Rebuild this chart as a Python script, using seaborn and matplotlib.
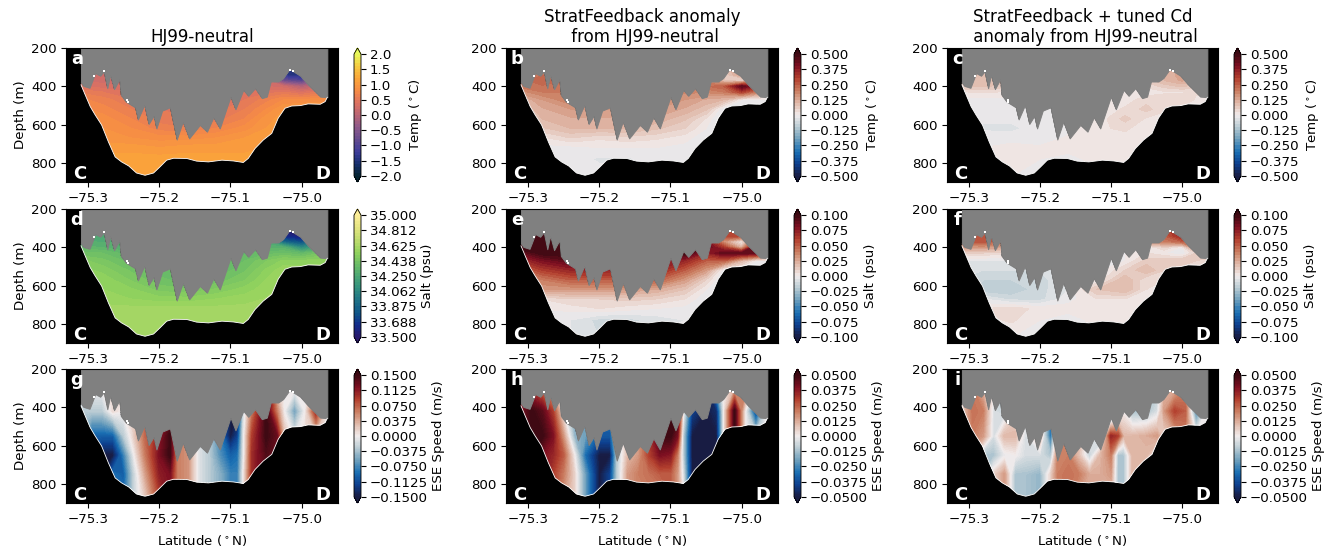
"""Ice shelf cavity sections: base state and anomalies for T, S and along-slope speed."""

import matplotlib

matplotlib.use("Agg")
import matplotlib.pyplot as plt
import numpy as np
import seaborn as sns
from matplotlib.patches import Polygon

W, H = 1328, 548
GRAY = "#808080"

ICE_LAT = [-75.310, -75.3066, -75.298, -75.295, -75.290, -75.283, -75.278, -75.273, -75.269, -75.2635,
           -75.256, -75.254, -75.247, -75.234, -75.230, -75.221, -75.215, -75.208, -75.204, -75.196,
           -75.185, -75.1755, -75.167, -75.158, -75.143, -75.133, -75.124, -75.115, -75.100, -75.093,
           -75.082, -75.075, -75.0655, -75.056, -75.049, -75.0435, -75.033, -75.026, -75.017, -75.002,
           -74.991, -74.974, -74.964]
ICE_DEPTH = [380, 398, 408, 380, 331, 345, 322, 410, 340, 415,
             363, 445, 480, 510, 573, 497, 597, 555, 620, 527,
             510, 678, 585, 672, 602, 637, 562, 620, 454, 520,
             419, 450, 410, 462, 454, 375, 375, 357, 310, 345,
             392, 454, 457]

BED_LAT = [-75.310, -75.304, -75.297, -75.290, -75.281, -75.2715, -75.262, -75.253, -75.243, -75.232,
           -75.220, -75.208, -75.199, -75.1896, -75.180, -75.1615, -75.1475, -75.131, -75.112, -75.096,
           -75.082, -75.075, -75.0655, -75.054, -75.042, -75.033, -75.0235, -75.014, -75.002, -74.991,
           -74.974, -74.967, -74.964]
BED_DEPTH = [392, 445, 506, 550, 602, 690, 769, 795, 816, 853,
             865, 853, 821, 786, 776, 777, 791, 795, 786, 790,
             798, 777, 725, 681, 646, 567, 515, 503, 501, 492,
             494, 480, 457]

# little white gaps along the ice base
SPECK_LAT = [-75.2455, -75.2445, -75.292, -75.277, -75.016, -75.012]
SPECK_DEPTH = [470, 482, 345, 322, 314, 322]

T_LATS = [-75.32, -75.28, -75.24, -75.20, -75.16, -75.12, -75.08, -75.05, -75.025, -75.00, -74.98, -74.96]
T_DEPTHS = [300, 340, 370, 400, 430, 470, 520, 570, 620, 670, 720, 780, 870]

TEMP_BASE = [
    [.20, .20, .20, .20, .20, .30, .30, .20, -1.5, -1.6, -1.0, -.60],
    [.20, .25, .20, .20, .20, .30, .30, .20, -1.4, -1.5, -.80, -.50],
    [.30, .25, .25, .25, .25, .30, .30, .20, -.80, -1.0, -.50, -.20],
    [.40, .35, .30, .30, .30, .30, .35, .30, .20, -.10, .10, .20],
    [.60, .50, .40, .35, .35, .35, .40, .45, .50, .35, .50, .55],
    [.75, .65, .50, .40, .40, .40, .50, .65, .80, .80, .85, .85],
    [.85, .75, .60, .50, .45, .45, .60, .80, 1.0, 1.05, 1.05, 1.05],
    [.90, .85, .70, .55, .50, .55, .70, .95, 1.05, 1.1, 1.1, 1.1],
    [.95, .90, .80, .65, .60, .70, .85, 1.0, 1.1, 1.1, 1.1, 1.1],
    [1.0, .95, .90, .85, .85, .90, 1.0, 1.05, 1.1, 1.1, 1.1, 1.1],
    [1.1, 1.05, 1.05, 1.0, 1.05, 1.05, 1.05, 1.1, 1.1, 1.1, 1.1, 1.1],
    [1.15, 1.15, 1.15, 1.15, 1.15, 1.15, 1.15, 1.15, 1.15, 1.15, 1.15, 1.15],
    [1.15, 1.15, 1.15, 1.15, 1.15, 1.15, 1.15, 1.15, 1.15, 1.15, 1.15, 1.15],
]
SALT_BASE = [
    [34.25, 34.28, 34.25, 34.25, 34.25, 34.30, 34.30, 34.20, 33.55, 33.50, 33.70, 33.90],
    [34.25, 34.28, 34.25, 34.25, 34.25, 34.30, 34.30, 34.22, 33.60, 33.55, 33.80, 33.95],
    [34.30, 34.28, 34.28, 34.30, 34.30, 34.30, 34.30, 34.25, 33.85, 33.75, 33.95, 34.10],
    [34.35, 34.32, 34.30, 34.30, 34.30, 34.30, 34.32, 34.32, 34.30, 34.05, 34.20, 34.30],
    [34.42, 34.40, 34.33, 34.32, 34.32, 34.32, 34.35, 34.38, 34.40, 34.35, 34.42, 34.42],
    [34.50, 34.45, 34.38, 34.35, 34.33, 34.33, 34.40, 34.47, 34.52, 34.52, 34.53, 34.53],
    [34.54, 34.50, 34.43, 34.38, 34.36, 34.36, 34.43, 34.52, 34.58, 34.58, 34.58, 34.58],
    [34.56, 34.54, 34.47, 34.41, 34.38, 34.41, 34.47, 34.55, 34.60, 34.60, 34.60, 34.60],
    [34.57, 34.55, 34.52, 34.46, 34.44, 34.48, 34.53, 34.57, 34.60, 34.60, 34.60, 34.60],
    [34.58, 34.57, 34.55, 34.53, 34.53, 34.55, 34.57, 34.59, 34.60, 34.60, 34.60, 34.60],
    [34.60, 34.60, 34.60, 34.60, 34.60, 34.60, 34.60, 34.60, 34.60, 34.60, 34.60, 34.60],
    [34.62, 34.62, 34.62, 34.62, 34.62, 34.62, 34.62, 34.62, 34.62, 34.62, 34.62, 34.62],
    [34.62, 34.62, 34.62, 34.62, 34.62, 34.62, 34.62, 34.62, 34.62, 34.62, 34.62, 34.62],
]
TEMP_STRAT = [
    [.15, .20, .20, .20, .20, .20, .20, .10, .05, .20, .15, .10],
    [.20, .22, .22, .20, .20, .20, .20, .10, .05, .15, .15, .10],
    [.20, .25, .22, .20, .20, .20, .20, .18, .08, .02, .20, .15],
    [.20, .22, .22, .20, .20, .18, .20, .22, .25, .45, .35, .20],
    [.15, .20, .20, .20, .20, .18, .18, .18, .20, .30, .20, .10],
    [.08, .15, .20, .18, .18, .18, .15, .12, .10, .00, -.02, .00],
    [.05, .12, .15, .15, .15, .15, .12, .08, -.03, -.03, -.03, -.02],
    [.04, .10, .12, .12, .12, .12, .08, .02, -.05, -.04, -.03, -.02],
    [.03, .07, .10, .10, .10, .08, .05, .00, -.05, -.04, -.03, -.02],
    [.00, .02, .05, .03, .04, .03, .01, -.02, -.04, -.03, -.02, -.02],
    [-.01, -.01, -.01, .00, .00, .00, -.01, -.02, -.02, -.02, -.02, -.02],
    [-.01, -.01, -.01, -.03, -.03, -.01, -.01, -.02, -.02, -.02, -.02, -.02],
    [-.01, -.01, -.01, -.01, -.01, -.01, -.01, -.01, -.01, -.01, -.01, -.01],
]
SALT_STRAT = [
    [.080, .090, .080, .080, .080, .080, .080, .060, .050, .090, .070, .050],
    [.090, .100, .090, .090, .090, .090, .090, .070, .060, .060, .080, .060],
    [.100, .100, .100, .100, .100, .100, .100, .080, .030, .000, .060, .060],
    [.100, .100, .100, .100, .100, .100, .100, .090, .060, .020, .100, .080],
    [.080, .100, .100, .090, .090, .090, .100, .070, .090, .090, .090, .050],
    [.060, .080, .090, .080, .080, .080, .070, .050, .050, .020, .000, .000],
    [.040, .060, .070, .070, .070, .070, .050, .030, -.005, -.005, -.005, -.005],
    [.020, .040, .050, .050, .050, .050, .030, .010, -.010, -.010, -.010, -.010],
    [.010, .030, .030, .030, .030, .025, .015, .000, -.010, -.010, -.010, -.010],
    [.000, .005, .010, .010, .012, .010, .005, -.005, -.010, -.010, -.010, -.010],
    [-.005, .000, .002, .005, .002, .000, -.002, -.005, -.005, -.005, -.005, -.005],
    [-.005, -.005, -.005, -.012, -.012, -.008, -.005, -.005, -.005, -.005, -.005, -.005],
    [-.005, -.005, -.005, -.010, -.005, -.005, -.005, -.005, -.005, -.005, -.005, -.005],
]
TEMP_TUNED = [
    [.08, .10, .08, .05, .05, .05, .05, .03, .10, .13, .10, .05],
    [.08, .10, .08, .05, .05, .05, .04, .04, .10, .14, .10, .05],
    [.08, .10, .08, .03, .03, .03, .03, .06, .10, .13, .10, .08],
    [.07, .08, .06, .01, .01, .01, .01, .03, .06, .08, .06, .08],
    [.02, .03, .02, .00, -.005, -.005, .00, .01, .02, .02, .03, .03],
    [-.01, -.01, -.01, -.01, -.01, -.005, .01, .04, .04, .05, .02, .01],
    [-.01, -.01, -.01, -.015, -.005, .00, .03, .06, .03, .01, .005, .00],
    [-.01, -.02, -.02, -.02, -.01, .005, .06, .02, .01, .005, .00, .00],
    [-.01, -.03, -.03, -.015, -.01, .02, .03, .01, .005, .00, .00, .00],
    [-.005, -.01, -.015, -.02, .005, .015, .015, .01, .005, .00, .00, .00],
    [.00, .00, .012, .005, .005, .015, .015, .015, .005, .00, .00, .00],
    [.00, .005, .01, .00, -.005, .005, .01, .005, .00, .00, .00, .00],
    [.00, .00, .00, .00, .00, .00, .00, .00, .00, .00, .00, .00],
]
SALT_TUNED = [
    [.040, .050, .050, .020, .020, .020, .020, .020, .050, .080, .050, .030],
    [.040, .055, .050, .020, .020, .020, .020, .030, .050, .070, .050, .030],
    [.045, .055, .040, .010, .010, .010, .015, .030, .040, .050, .050, .040],
    [.030, .030, .025, -.005, -.005, .000, .000, .000, .010, .000, .040, .040],
    [.010, .010, .005, -.008, -.005, -.005, .000, .005, .000, -.005, .010, .020],
    [-.005, -.005, -.005, -.010, -.008, -.005, .000, .012, .015, .015, .010, .005],
    [-.008, -.010, -.010, -.010, -.008, -.003, .010, .020, .010, .005, .002, .000],
    [-.010, -.015, -.015, -.012, -.005, .000, .020, .005, .005, .002, .000, .000],
    [-.005, -.020, -.020, -.012, -.005, .015, .020, .005, .002, .000, .000, .000],
    [-.002, -.005, -.012, -.012, -.002, .005, .005, .003, .000, .000, .000, .000],
    [.000, .005, .008, .003, .002, .004, .004, .003, .000, .000, .000, .000],
    [.000, .003, .006, .000, -.003, .002, .003, .002, .000, .000, .000, .000],
    [.000, .000, .000, .000, .000, .000, .000, .000, .000, .000, .000, .000],
]

U_LATS = [-75.31, -75.295, -75.28, -75.265, -75.25, -75.235, -75.22, -75.20, -75.185, -75.175, -75.16, -75.145, -75.13,
          -75.115, -75.10, -75.09, -75.082, -75.07, -75.05, -75.035, -75.025, -75.01, -74.995, -74.98, -74.965]
U_DEPTHS = [300, 420, 550, 650, 750, 860]

# one row per latitude here, the speed is close to barotropic
SPEED_BASE = [
    [.00, -.03, -.05, -.05, -.05, -.05],
    [.00, -.03, -.10, -.12, -.12, -.12],
    [.00, -.03, -.10, -.15, -.15, -.15],
    [.01, .01, -.10, -.15, -.09, -.09],
    [.01, .00, -.03, -.08, -.10, -.09],
    [.02, .02, .02, .00, -.02, -.02],
    [.05, .07, .07, .06, .04, .02],
    [.08, .09, .11, .12, .11, .09],
    [.10, .12, .15, .15, .12, .12],
    [.06, .06, .06, .06, .06, .06],
    [.05, .05, .05, .05, .05, .05],
    [-.01, -.01, -.01, -.01, -.01, -.01],
    [-.03, -.03, -.03, -.03, -.03, -.03],
    [-.08, -.08, -.08, -.07, -.05, -.05],
    [-.15, -.15, -.15, -.10, -.08, -.08],
    [-.15, -.15, -.12, -.09, -.08, -.08],
    [-.02, -.02, -.01, -.01, .00, .00],
    [.06, .06, .09, .10, .10, .10],
    [.15, .15, .15, .14, .14, .14],
    [.02, .06, .13, .13, .13, .13],
    [.00, .00, .03, .03, .03, .03],
    [.00, -.06, -.01, -.01, -.01, -.01],
    [.00, .00, .01, .01, .01, .01],
    [.03, .10, .02, .02, .02, .02],
    [.00, .00, .00, .00, .00, .00],
]
SPEED_STRAT = [
    [.030, .040, .040, .040, .040, .040],
    [.030, .050, .050, .050, .050, .050],
    [.020, .045, .050, .040, .040, .040],
    [.010, .030, .040, .035, .030, .030],
    [-.010, .000, .015, .025, .020, .015],
    [-.020, -.020, -.015, .000, .005, .005],
    [-.020, -.020, -.020, -.030, -.020, -.020],
    [-.030, -.030, -.035, -.050, -.050, -.050],
    [-.030, -.030, -.035, -.050, -.040, -.040],
    [-.010, -.010, -.010, -.010, -.010, -.010],
    [.010, .010, .010, .010, .015, .015],
    [.015, .015, .015, .015, .020, .020],
    [.030, .030, .030, .030, .022, .020],
    [.050, .050, .050, .040, .025, .020],
    [.050, .050, .050, .038, .025, .025],
    [.050, .050, .040, .020, .015, .015],
    [.000, .000, -.010, -.010, -.005, .000],
    [-.040, -.040, -.050, -.050, -.050, -.050],
    [-.050, -.050, -.050, -.050, -.050, -.050],
    [-.020, -.045, -.050, -.050, -.050, -.050],
    [.000, .000, .000, .000, .000, .000],
    [.010, .050, .050, .050, .050, .050],
    [.020, .000, .000, .000, .000, .000],
    [-.010, -.040, -.010, .000, .000, .000],
    [.000, .000, .000, .000, .000, .000],
]
SPEED_TUNED = [
    [.005, .005, .005, .005, .005, .005],
    [.020, .022, .020, .010, .000, .000],
    [.010, .020, .015, -.012, -.012, -.012],
    [.000, -.005, -.005, -.012, .005, .005],
    [-.008, -.008, .010, -.002, .015, .015],
    [.000, .005, .010, .000, -.012, -.012],
    [.000, .000, -.005, -.005, -.012, -.012],
    [.000, .010, .010, -.005, -.015, -.015],
    [-.020, -.030, -.030, -.012, .005, .005],
    [-.010, -.010, .010, .020, .020, .020],
    [.020, .020, .020, .020, .022, .022],
    [.010, .010, .010, .008, .020, .015],
    [-.005, -.005, -.005, -.008, .012, .012],
    [-.010, -.010, -.015, .010, .012, .012],
    [-.030, -.030, .035, .020, .015, .010],
    [-.010, -.010, .030, -.012, -.012, -.012],
    [-.010, .000, .010, -.012, -.012, -.012],
    [-.005, -.012, .010, .010, .010, .010],
    [-.012, -.012, .012, .010, .005, .005],
    [-.010, -.005, .015, .000, .000, .000],
    [.010, .015, .005, .005, .005, .005],
    [.010, .030, .012, .010, .010, .010],
    [.020, .025, .020, .020, .020, .020],
    [-.005, -.025, .000, .000, .000, .000],
    [.000, .000, .000, .000, .000, .000],
]

THERMAL = ["#04232f", "#17306f", "#3d3c9a", "#674c8e", "#8f5a8a", "#b96575", "#dc7162", "#f58a46", "#fba53a", "#f6cb42", "#e8fa5b"]
HALINE = ["#29186b", "#122c8c", "#0f5688", "#1f7387", "#32907f", "#4ba675", "#6dbe66", "#93d35d", "#c0dc6f", "#e6e582", "#fdee99"]
BALANCE = ["#181c43", "#0d3f8e", "#1a6fb3", "#6fa0bd", "#b9cbd3", "#f1ecec", "#e0b9a9", "#cb7f62", "#b3402e", "#7e0f21", "#3c0912"]

TEMP_TICKS = [-2.0, -1.5, -1.0, -0.5, 0.0, 0.5, 1.0, 1.5, 2.0]
SALT_TICKS = [33.5, 33.6875, 33.875, 34.0625, 34.25, 34.4375, 34.625, 34.8125, 35.0]
SALT_TICK_LABELS = ["33.500", "33.688", "33.875", "34.062", "34.250", "34.438", "34.625", "34.812", "35.000"]
TEMP_ANOM_TICKS = [-0.5, -0.375, -0.25, -0.125, 0.0, 0.125, 0.25, 0.375, 0.5]
SALT_ANOM_TICKS = [-0.1, -0.075, -0.05, -0.025, 0.0, 0.025, 0.05, 0.075, 0.1]
SPEED_BASE_TICKS = [-0.15, -0.1125, -0.075, -0.0375, 0.0, 0.0375, 0.075, 0.1125, 0.15]
SPEED_ANOM_TICKS = [-0.05, -0.0375, -0.025, -0.0125, 0.0, 0.0125, 0.025, 0.0375, 0.05]

TITLES = ["HJ99-neutral", "StratFeedback anomaly\n from HJ99-neutral", "StratFeedback + tuned Cd\n anomaly from HJ99-neutral"]
LETTERS = ["a", "b", "c", "d", "e", "f", "g", "h", "i"]
COL_X = [(66, 338), (506, 778), (947, 1218)]
CBAR_X = [354, 794, 1234]
ROW_Y = [(48, 182), (209, 343), (369, 503)]


def px_axes(fig, x0, x1, y0, y1):
    return fig.add_axes([x0 / W, 1 - y1 / H, (x1 - x0) / W, (y1 - y0) / H])


def tick_text(ticks, decimals):
    return [f"{t:.{decimals}f}".replace("-", "\u2212") for t in ticks]


def draw_section(fig, row, col, field, lats, depths, cmap, ticks, tick_labels, cbar_label):
    x0, x1 = COL_X[col]
    y0, y1 = ROW_Y[row]
    ax = px_axes(fig, x0, x1, y0, y1)
    ax.set_facecolor("black")

    # speed panels look continuous in the figure, T and S show bands
    levels = np.linspace(ticks[0], ticks[-1], 101 if row == 2 else 41)
    cs = ax.contourf(lats, depths, field, levels=levels, cmap=cmap, extend="both")
    outline = list(zip(ICE_LAT, ICE_DEPTH)) + list(zip(BED_LAT, BED_DEPTH))[::-1]
    clip = Polygon(outline, closed=True, transform=ax.transData)
    cs.set_clip_path(clip)

    ax.fill_between(ICE_LAT, 200, ICE_DEPTH, facecolor=GRAY, edgecolor=GRAY, lw=0.7)
    sns.lineplot(x=BED_LAT, y=BED_DEPTH, sort=False, estimator=None, color="white", lw=0.6, ax=ax)
    sns.scatterplot(x=SPECK_LAT, y=SPECK_DEPTH, color="white", s=1.5, lw=0, marker="s", ax=ax)

    ax.set_xlim(-75.331, -74.949)
    ax.set_ylim(900, 200)
    ax.set_xticks([-75.3, -75.2, -75.1, -75.0])
    ax.set_yticks([200, 400, 600, 800])
    ax.tick_params(labelsize=9.6, length=3.4, width=0.8)
    ax.set_ylabel("Depth (m)" if col == 0 else "", fontsize=9.6, labelpad=3)
    ax.set_xlabel(r"Latitude ($^\circ$N)" if row == 2 else "", fontsize=9.6, labelpad=5)
    if row == 0:
        ax.set_title(TITLES[col], fontsize=12, pad=4, linespacing=1.15)

    label_kw = dict(transform=ax.transAxes, color="white", fontweight="bold", fontsize=13, ha="center", va="center")
    ax.text(0.04, 0.915, LETTERS[row * 3 + col], **label_kw)
    ax.text(0.05, 0.06, "C", **label_kw)
    ax.text(0.945, 0.06, "D", **label_kw)

    cax = px_axes(fig, CBAR_X[col], CBAR_X[col] + 7, y0, y1)
    cbar = fig.colorbar(cs, cax=cax, ticks=ticks)
    cbar.set_ticklabels(tick_labels)
    cbar.ax.tick_params(labelsize=9.6, length=3.4, width=0.8, pad=3)
    cbar.outline.set_linewidth(0.6)
    cbar.set_label(cbar_label, fontsize=9.6, labelpad=3)


def main():
    sns.set_theme(style="ticks", rc={"text.color": "black", "axes.labelcolor": "black",
                                     "xtick.color": "black", "ytick.color": "black",
                                     "axes.edgecolor": "black", "axes.linewidth": 0.8})
    plt.rcParams["font.family"] = "DejaVu Sans"
    plt.rcParams["mathtext.default"] = "regular"

    thermal = sns.blend_palette(THERMAL, as_cmap=True)
    haline = sns.blend_palette(HALINE, as_cmap=True)
    balance = sns.blend_palette(BALANCE, as_cmap=True)

    fig = plt.figure(figsize=(W / 100, H / 100), dpi=100)

    temp_label = r"Temp ($^\circ$C)"
    temp_text = tick_text(TEMP_ANOM_TICKS, 3)
    salt_text = tick_text(SALT_ANOM_TICKS, 3)
    speed_text = tick_text(SPEED_ANOM_TICKS, 4)

    draw_section(fig, 0, 0, TEMP_BASE, T_LATS, T_DEPTHS, thermal, TEMP_TICKS, tick_text(TEMP_TICKS, 1), temp_label)
    draw_section(fig, 0, 1, TEMP_STRAT, T_LATS, T_DEPTHS, balance, TEMP_ANOM_TICKS, temp_text, temp_label)
    draw_section(fig, 0, 2, TEMP_TUNED, T_LATS, T_DEPTHS, balance, TEMP_ANOM_TICKS, temp_text, temp_label)
    draw_section(fig, 1, 0, SALT_BASE, T_LATS, T_DEPTHS, haline, SALT_TICKS, SALT_TICK_LABELS, "Salt (psu)")
    draw_section(fig, 1, 1, SALT_STRAT, T_LATS, T_DEPTHS, balance, SALT_ANOM_TICKS, salt_text, "Salt (psu)")
    draw_section(fig, 1, 2, SALT_TUNED, T_LATS, T_DEPTHS, balance, SALT_ANOM_TICKS, salt_text, "Salt (psu)")

    speed_label = "ESE Speed (m/s)"
    draw_section(fig, 2, 0, np.array(SPEED_BASE).T, U_LATS, U_DEPTHS, balance, SPEED_BASE_TICKS,
                 tick_text(SPEED_BASE_TICKS, 4), speed_label)
    draw_section(fig, 2, 1, np.array(SPEED_STRAT).T, U_LATS, U_DEPTHS, balance, SPEED_ANOM_TICKS, speed_text, speed_label)
    draw_section(fig, 2, 2, np.array(SPEED_TUNED).T, U_LATS, U_DEPTHS, balance, SPEED_ANOM_TICKS, speed_text, speed_label)

    fig.savefig("out.png", dpi=100)
    plt.close(fig)


if __name__ == "__main__":
    main()
